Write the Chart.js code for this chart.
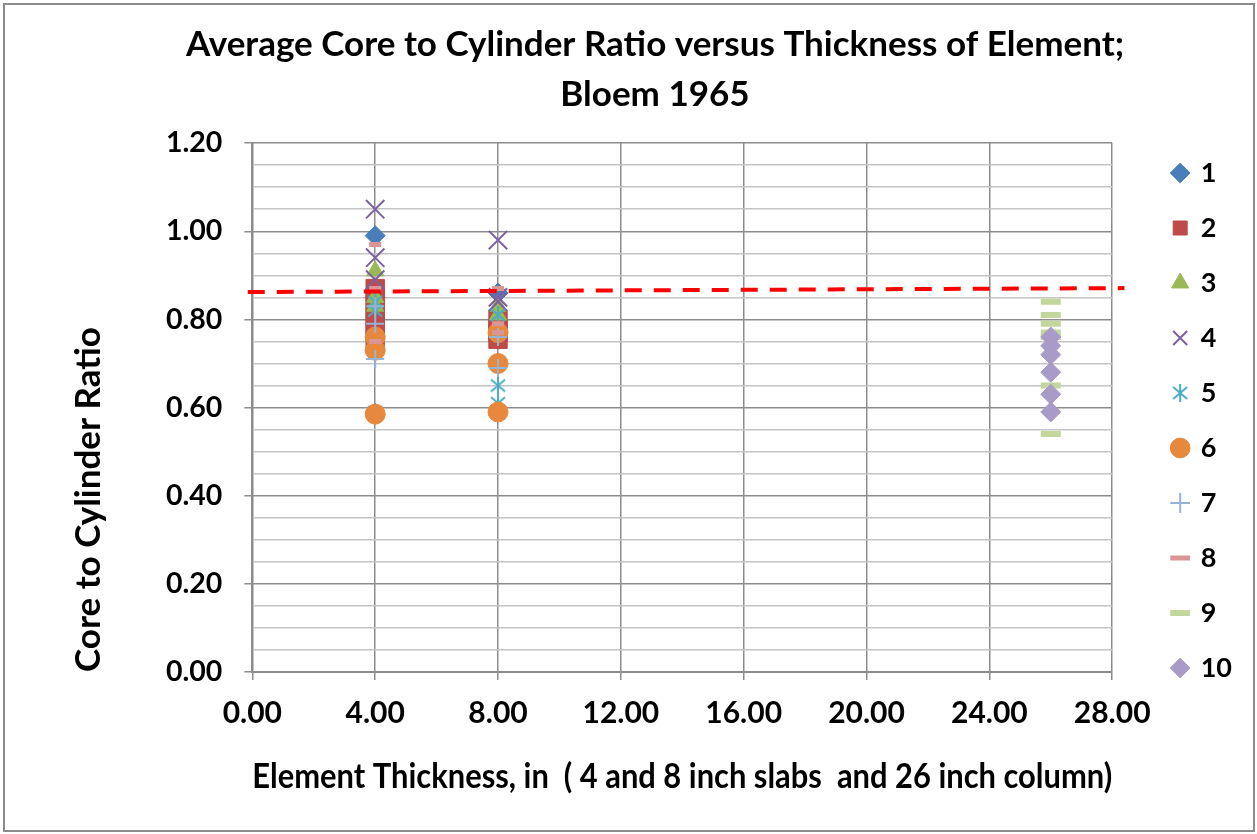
<!DOCTYPE html>
<html>
<head>
<meta charset="utf-8">
<script src="https://cdn.jsdelivr.net/npm/chart.js@4.4.0/dist/chart.umd.min.js"></script>
<style>
html,body{margin:0;padding:0;background:#fff;}
#wrap{position:relative;width:1257px;height:834px;}
#frame{position:absolute;left:3px;top:3px;width:1248px;height:825px;border:2px solid #8c8c8c;pointer-events:none;}
</style>
</head>
<body>
<div id="wrap"><canvas id="coreChart"></canvas><div id="frame"></div></div>
<script>
// values
const seriesNames = ["1","2","3","4","5","6","7","8","9","10"];
const s1x = [4, 4, 8];                  const s1y = [0.99, 0.85, 0.86];
const s2x = [4, 4, 4, 4, 4, 4, 4, 8, 8, 8, 8]; const s2y = [0.87, 0.85, 0.83, 0.81, 0.79, 0.77, 0.75, 0.80, 0.78, 0.77, 0.755];
const s3x = [4, 4, 4, 8, 8];            const s3y = [0.91, 0.85, 0.83, 0.83, 0.81];
const s4x = [4, 4, 4, 8, 8, 8];         const s4y = [1.05, 0.94, 0.89, 0.98, 0.85, 0.84];
const s5x = [4, 4, 4, 8, 8, 8];         const s5y = [0.84, 0.82, 0.59, 0.81, 0.65, 0.61];
const s6x = [4, 4, 4, 8, 8, 8];         const s6y = [0.76, 0.73, 0.585, 0.77, 0.70, 0.59];
const s7x = [4, 4, 4, 8, 8];            const s7y = [0.83, 0.79, 0.71, 0.76, 0.69];
const s8x = [4, 4, 4, 8, 8, 8];         const s8y = [0.97, 0.87, 0.75, 0.87, 0.79, 0.77];
const s9x = [26, 26, 26, 26, 26, 26, 26]; const s9y = [0.84, 0.81, 0.79, 0.77, 0.76, 0.65, 0.54];
const s10x = [26, 26, 26, 26, 26, 26];  const s10y = [0.76, 0.74, 0.72, 0.68, 0.63, 0.59];
const refLineX = [-0.15, 28.4];
const refLineY = [0.862, 0.871];
const xTicks = [0, 4, 8, 12, 16, 20, 24, 28];

const FONT = "Lato, 'Noto Sans', sans-serif";

function starImage(color){
    let c = document.createElement("canvas");
    c.width = 20; c.height = 20;
    let g = c.getContext("2d");
    g.strokeStyle = color; g.lineWidth = 2;
    g.beginPath();
    g.moveTo(10, 1); g.lineTo(10, 19);
    g.moveTo(3, 4); g.lineTo(17, 16);
    g.moveTo(17, 4); g.lineTo(3, 16);
    g.stroke();
    return c;
}

function mk(i, xs, ys, style, color, radius, bw){
    return {
        label: seriesNames[i],
        data: xs.map((x, k) => ({x: x, y: ys[k]})),
        pointStyle: style,
        backgroundColor: color,
        borderColor: color,
        pointRadius: radius,
        pointHoverRadius: radius,
        borderWidth: bw,
        order: 100 - i
    };
}

let datasets = [
    mk(0, s1x, s1y, "rectRot", "#4A7EBB", 10, 1),
    mk(1, s2x, s2y, "rect", "#BE4B48", 13, 1),
    mk(2, s3x, s3y, "triangle", "#98B954", 10, 1),
    mk(3, s4x, s4y, "crossRot", "#7D60A0", 13, 2),
    mk(4, s5x, s5y, starImage("#4BACC6"), "#4BACC6", 10, 2),
    mk(5, s6x, s6y, "circle", "#E6893F", 10, 1),
    mk(6, s7x, s7y, "cross", "#95B3D7", 9, 2),
    mk(7, s8x, s8y, "line", "#D99694", 6, 5),
    mk(8, s9x, s9y, "line", "#C3D69B", 10, 6),
    mk(9, s10x, s10y, "rectRot", "#A99BC7", 10, 1)
];
datasets.push({
    type: "line",
    label: "ref",
    data: refLineX.map((x, k) => ({x: x, y: refLineY[k]})),
    borderColor: "#FF0000",
    borderWidth: 4,
    borderDash: [17, 12],
    pointRadius: 0,
    clip: false,
    order: 0
});

let myCanvas = document.getElementById("coreChart").getContext("2d");
let graph = new Chart(myCanvas, {
    type: "scatter",
    data: {datasets: datasets},
    options: {
        responsive: true,
        maintainAspectRatio: false,
        animation: false,
        layout: {padding: {left: 68, right: 15, top: 20, bottom: 13}},
        plugins: {
            title: {
                display: true,
                text: ["Average Core to Cylinder Ratio versus Thickness of Element;", "Bloem 1965"],
                color: "#000",
                font: {family: FONT, size: 35, weight: "bold", lineHeight: 1.43},
                padding: {top: 0, bottom: 23}
            },
            legend: {
                position: "right",
                labels: {
                    usePointStyle: true,
                    boxWidth: 14,
                    boxHeight: 14,
                    padding: 28,
                    color: "#000",
                    font: {family: FONT, size: 27, weight: "bold"},
                    filter: item => item.datasetIndex < 10,
                    sort: (a, b) => a.datasetIndex - b.datasetIndex
                }
            },
            tooltip: {enabled: false}
        },
        scales: {
            x: {
                type: "linear",
                min: 0,
                max: 28,
                afterBuildTicks: axis => { axis.ticks = xTicks.map(v => ({value: v})); },
                ticks: {
                    color: "#000",
                    font: {family: FONT, size: 30, weight: "bold"},
                    padding: 15,
                    callback: v => v.toFixed(2)
                },
                grid: {color: "#8c8c8c", lineWidth: 1.5, tickLength: 8, tickColor: "#8c8c8c"},
                border: {color: "#8c8c8c", width: 2},
                title: {
                    display: true,
                    text: "Element Thickness, in  ( 4 and 8 inch slabs  and 26 inch column)",
                    color: "#000",
                    font: {family: FONT, size: 35, weight: "bold"},
                    padding: {top: 10, bottom: 23}
                }
            },
            y: {
                type: "linear",
                min: 0,
                max: 1.2,
                ticks: {
                    stepSize: 0.05,
                    autoSkip: false,
                    color: "#000",
                    font: {family: FONT, size: 28.5, weight: "bold"},
                    padding: 22,
                    callback: v => {
                        let r = v / 0.2;
                        return Math.abs(r - Math.round(r)) < 1e-6 ? v.toFixed(2) : "";
                    }
                },
                grid: {
                    lineWidth: 1.5,
                    tickLength: 8,
                    color: ctx => {
                        let r = ctx.tick.value / 0.2;
                        return Math.abs(r - Math.round(r)) < 1e-6 ? "#8c8c8c" : "#c4c4c4";
                    },
                    tickColor: ctx => {
                        let r = ctx.tick.value / 0.2;
                        return Math.abs(r - Math.round(r)) < 1e-6 ? "#8c8c8c" : "rgba(0,0,0,0)";
                    }
                },
                border: {color: "#8c8c8c", width: 2},
                title: {
                    display: true,
                    align: "start",
                    text: "Core to Cylinder Ratio",
                    color: "#000",
                    font: {family: FONT, size: 35, weight: "bold"},
                    padding: {top: 0, bottom: 34}
                }
            },
            // empty gap between plot and legend
            gap: {
                type: "linear",
                axis: "y",
                position: "right",
                display: true,
                grid: {display: false},
                ticks: {display: false},
                border: {display: false},
                afterFit: scale => { scale.width = 33; }
            }
        }
    }
});
</script>
</body>
</html>
